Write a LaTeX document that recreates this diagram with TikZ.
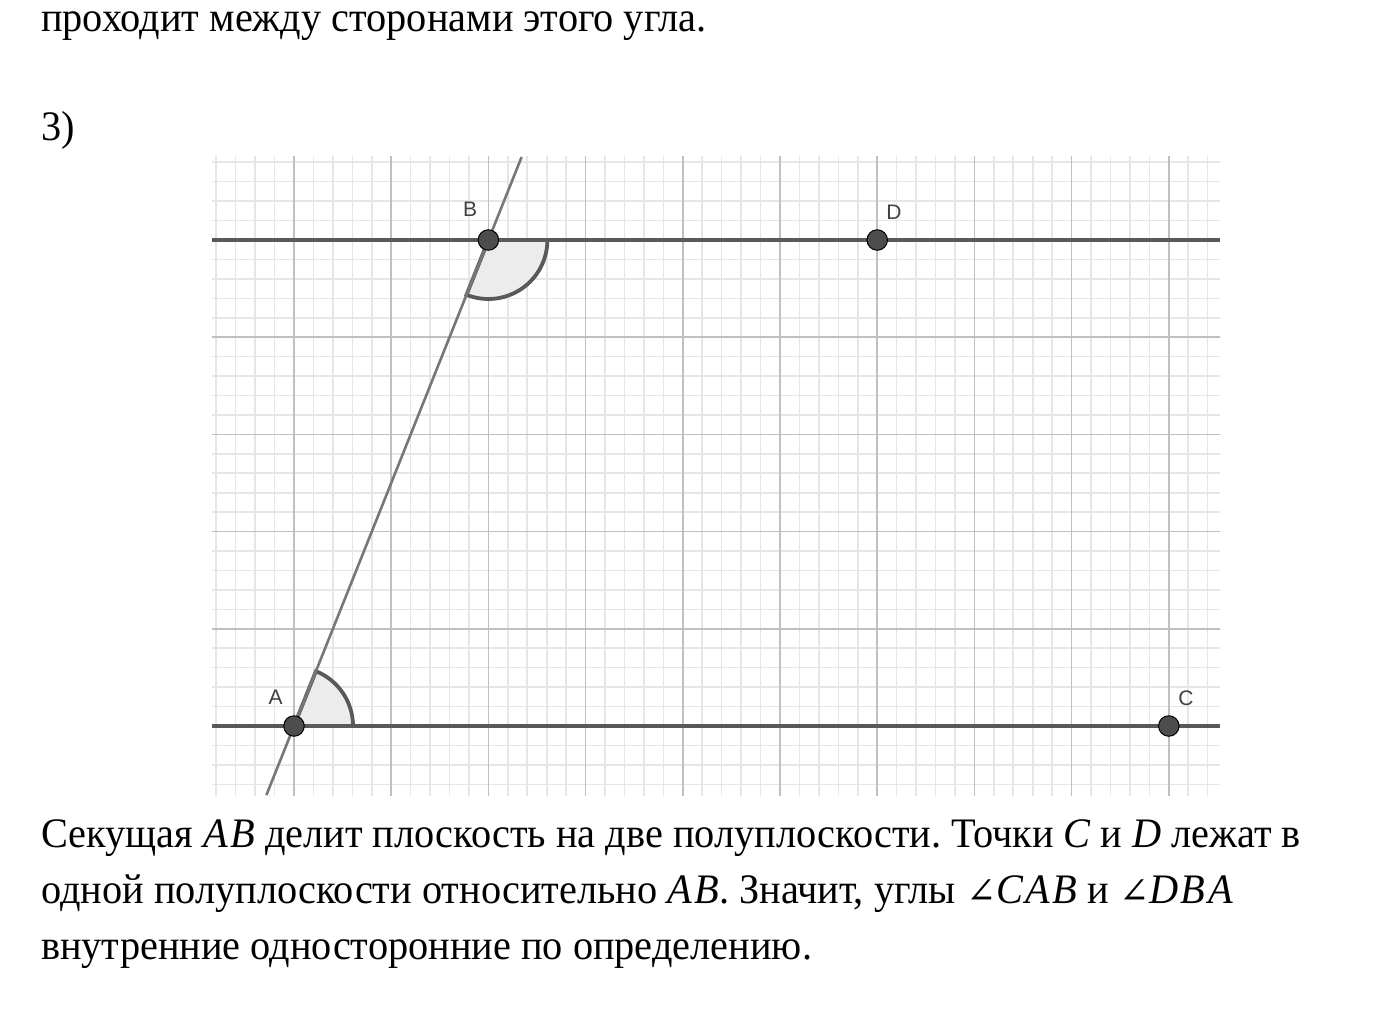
\documentclass[tikz,border=0pt]{standalone}
\usepackage{fontspec}
\setmainfont[FakeStretch=0.96]{Liberation Serif}
\newfontfamily\labfont{Liberation Sans}
\newfontfamily\varfont[LetterSpace=6,FakeStretch=0.96]{Liberation Serif Italic}
\newfontfamily\angfont{DejaVu Serif}
\definecolor{minorgrid}{HTML}{E6E6E6}
\definecolor{majorgrid}{HTML}{C0C0C0}
\definecolor{darkline}{HTML}{595959}
\definecolor{transline}{HTML}{777777}
\definecolor{ptfill}{HTML}{4D4D4D}
\definecolor{labcol}{HTML}{404040}
\definecolor{sectorfill}{HTML}{ECECEC}
\newcommand{\mv}[1]{{\varfont #1}}
\newcommand{\myang}{{\angfont\fontsize{36}{40}\selectfont ∠}}
\tikzset{
  minorline/.style={draw=minorgrid, line width=1.6pt},
  majorline/.style={draw=majorgrid, line width=1.6pt},
  parline/.style={draw=darkline, line width=3.6pt},
  secline/.style={draw=transline, line width=2.6pt},
  sector/.style={fill=sectorfill, draw=darkline, line width=3.8pt},
  pt/.style={circle, fill=ptfill, draw=black, line width=1pt, inner sep=0pt, minimum size=20.5pt},
  ptlabel/.style={text=labcol, font=\labfont\fontsize{21}{24}\selectfont, inner sep=0pt},
  bodytext/.style={anchor=base west, inner sep=0pt, font=\frenchspacing\fontsize{42}{48}\selectfont}
}
\begin{document}
\begin{tikzpicture}[x=1pt, y=-1pt]
\useasboundingbox[fill=white] (0,0) rectangle (1400,1010);
% texts
\node[bodytext] (t0) at (41,31) {проходит между сторонами этого угла.};
\node[bodytext] (t1) at (41,140) {3)};
\node[bodytext] (t2) at (41,847) {Секущая \mv{AB} делит плоскость на две полуплоскости. Точки \mv{C} и \mv{D} лежат в};
\node[bodytext] (t3) at (41,903) {одной полуплоскости относительно \mv{AB}. Значит, углы \myang\mv{CAB} и \myang\mv{DBA}};
\node[bodytext] (t4) at (41,959) {внутренние односторонние по определению.};
% geometry scope: unit = one major square
\begin{scope}[shift={(294,726)}, x=97.2pt, y=97.2pt]
  \begin{scope}
    \clip (-0.8436,-0.71) rectangle (9.527,5.854);
    \foreach \k in {-5,...,48} {
      \draw[minorline] ({\k*0.2},-0.8) -- ({\k*0.2},6);
    }
    \foreach \k in {-4,...,30} {
      \draw[minorline] (-1,{\k*0.2}) -- (10,{\k*0.2});
    }
    \foreach \k in {-1,...,9} {
      \draw[majorline] (\k,-0.8) -- (\k,6);
    }
    \foreach \k in {0,...,5} {
      \draw[majorline] (-1,\k) -- (10,\k);
    }
  \end{scope}
  \coordinate (A) at (0,0);
  \coordinate (B) at (2,5);
  \coordinate (C) at (9,0);
  \coordinate (D) at (6,5);
  \coordinate (Lw) at (-0.8436,0);
  \coordinate (Le) at (9.527,0);
  \coordinate (Uw) at (-0.8436,5);
  \coordinate (Ue) at (9.527,5);
  \coordinate (Sb) at (-0.284,-0.71);
  \coordinate (St) at (2.3416,5.854);
  % sectors
  \draw[sector] (A) -- ++(0:0.607) arc[start angle=0, end angle=68.2, radius=0.607] -- cycle;
  \draw[sector] (B) -- ++(-111.8:0.607) arc[start angle=-111.8, end angle=0, radius=0.607] -- cycle;
  % lines
  \draw[parline] (Lw) -- (Le);
  \draw[parline] (Uw) -- (Ue);
  \draw[secline] (Sb) -- (St);
  % points
  \node[pt] (pA) at (A) {};
  \node[pt] (pB) at (B) {};
  \node[pt] (pC) at (C) {};
  \node[pt] (pD) at (D) {};
\end{scope}
\node[ptlabel] (lA) at (275.5,697) {A};
\node[ptlabel] (lB) at (470,209) {B};
\node[ptlabel] (lC) at (1186,698) {C};
\node[ptlabel] (lD) at (894,212) {D};
\end{tikzpicture}
\end{document}
